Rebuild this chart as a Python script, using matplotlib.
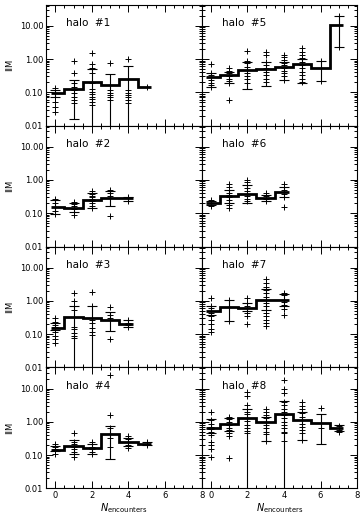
import matplotlib
matplotlib.use("Agg")
import matplotlib.pyplot as plt
from matplotlib.ticker import MultipleLocator, LogLocator, FixedLocator, NullFormatter
import numpy as np

# values, one block per halo
# steps: histogram level at N = 0, 1, 2 ...
# err_lo / err_hi: ends of the error bar at each N (1e-3 = runs off the bottom)
# pts: individual values at each N

steps_h1 = [0.093, 0.126, 0.21, 0.166, 0.257, 0.148]
err_lo_h1 = [0.071, 0.016, 1e-3, 1e-3, 1e-3]
err_hi_h1 = [0.115, 0.24, 0.51, 0.35, 0.60]
pts_h1 = [
    [0.138, 0.093, 0.071, 0.052, 0.037, 0.026],
    [0.89, 0.39, 0.186, 0.148, 0.117, 0.093, 0.074, 0.059, 0.047],
    [1.55, 0.71, 0.52, 0.37, 0.186, 0.123, 0.105, 0.089, 0.074, 0.062, 0.052, 0.042],
    [0.74, 0.117, 0.098, 0.083, 0.071, 0.059],
    [1.0, 0.117, 0.098, 0.083, 0.071, 0.059, 0.049],
    [0.148],
]

steps_h2 = [0.157, 0.14, 0.25, 0.28, 0.28]
err_lo_h2 = [0.094, 0.106, 0.14, 0.168, 0.24]
err_hi_h2 = [0.25, 0.21, 0.42, 0.47, 0.31]
pts_h2 = [
    [0.27, 0.21, 0.15, 0.119, 0.094],
    [0.22, 0.19, 0.16, 0.133, 0.106, 0.088],
    [0.47, 0.39, 0.33, 0.30, 0.27, 0.24, 0.21, 0.168, 0.14],
    [0.51, 0.42, 0.33, 0.28, 0.08],
    [0.31, 0.28, 0.24],
]

steps_h3 = [0.158, 0.32, 0.30, 0.27, 0.20]
err_lo_h3 = [0.135, 1e-3, 1e-3, 0.126, 0.16]
err_hi_h3 = [0.22, 0.68, 0.68, 0.45, 0.26]
pts_h3 = [
    [0.30, 0.24, 0.19, 0.17, 0.15, 0.12, 0.089, 0.071, 0.056],
    [1.78, 1.02, 0.71, 0.54, 0.17, 0.14, 0.107, 0.089, 0.076],
    [1.9, 0.71, 0.27, 0.21, 0.15, 0.12, 0.095],
    [0.65, 0.38, 0.30, 0.26, 0.071],
    [0.26, 0.22, 0.19, 0.16],
]

steps_h4 = [0.14, 0.19, 0.166, 0.43, 0.24, 0.21]
err_lo_h4 = [0.13, 0.105, 0.105, 0.074, 0.19, 0.20]
err_hi_h4 = [0.19, 0.28, 0.22, 0.76, 0.32, 0.25]
pts_h4 = [
    [0.21, 0.18, 0.15, 0.13, 0.11],
    [0.45, 0.25, 0.21, 0.18, 0.15, 0.126, 0.089],
    [0.25, 0.21, 0.18, 0.15, 0.126, 0.105],
    [25.0, 1.58, 0.63, 0.32, 0.18],
    [0.37, 0.30, 0.25, 0.20, 0.166],
    [0.25, 0.22, 0.20],
]

steps_h5 = [0.28, 0.33, 0.47, 0.50, 0.56, 0.71, 0.55, 10.5]
err_lo_h5 = [0.14, 0.186, 0.13, 0.155, 0.23, 0.195, 0.22, 2.24]
err_hi_h5 = [0.39, 0.42, 0.83, 0.83, 0.83, 0.98, 0.89, 19.5]
pts_h5 = [
    [0.71, 0.39, 0.33, 0.28, 0.23, 0.195, 0.166, 0.14],
    [0.52, 0.45, 0.37, 0.31, 0.26, 0.22, 0.186, 0.059],
    [1.78, 0.89, 0.74, 0.59, 0.47, 0.37, 0.31, 0.245, 0.186],
    [1.66, 1.32, 0.83, 0.66, 0.52, 0.42, 0.33, 0.26, 0.21],
    [1.32, 1.12, 0.93, 0.78, 0.66, 0.52, 0.45, 0.37, 0.30, 0.23],
    [2.1, 1.66, 1.32, 1.05, 0.83, 0.66, 0.52, 0.42, 0.33, 0.26, 0.21],
    [0.89, 0.22],
    [19.5, 2.24],
]

steps_h6 = [0.197, 0.33, 0.38, 0.285, 0.44]
err_lo_h6 = [0.18, 0.197, 0.21, 0.24, 0.30]
err_hi_h6 = [0.226, 0.50, 0.70, 0.35, 0.62]
pts_h6 = [
    [0.25, 0.21, 0.168],
    [0.75, 0.60, 0.42, 0.36, 0.30, 0.25, 0.21, 0.176, 0.143],
    [0.99, 0.84, 0.70, 0.57, 0.47, 0.39, 0.33, 0.27, 0.226],
    [0.42, 0.33, 0.27, 0.24],
    [0.75, 0.62, 0.50, 0.38, 0.30, 0.157],
]

steps_h7 = [0.48, 0.65, 0.60, 1.07, 1.07]
err_lo_h7 = [0.38, 0.25, 0.48, 0.54, 0.68]
err_hi_h7 = [0.71, 1.07, 0.85, 2.24, 1.62]
pts_h7 = [
    [1.2, 0.71, 0.60, 0.51, 0.43, 0.34, 0.27, 0.20, 0.14, 0.12],
    [1.07, 0.25],
    [1.2, 0.85, 0.71, 0.60, 0.51, 0.43, 0.34, 0.20],
    [4.5, 3.4, 2.7, 2.1, 1.7, 1.35, 1.07, 0.85, 0.68, 0.54, 0.43, 0.34, 0.27, 0.21, 0.18],
    [1.78, 1.5, 0.95, 0.76, 0.56, 0.38],
]

steps_h8 = [0.63, 0.89, 1.32, 1.0, 1.66, 1.12, 0.93, 0.63]
err_lo_h8 = [0.45, 0.52, 1e-3, 0.26, 1e-3, 0.28, 0.21, 0.52]
err_hi_h8 = [1.2, 1.32, 2.5, 1.41, 4.2, 2.0, 1.66, 0.79]
pts_h8 = [
    [2.0, 1.12, 0.89, 0.71, 0.60, 0.50, 0.40, 0.25, 0.20, 0.15, 0.089],
    [1.41, 1.2, 1.0, 0.79, 0.66, 0.56, 0.45, 0.38, 0.083],
    [7.9, 6.0, 3.2, 2.5, 2.0, 1.66, 1.32, 1.05, 0.83, 0.66, 0.52, 0.45],
    [2.5, 2.0, 1.58, 1.26, 1.0, 0.79, 0.63, 0.50, 0.42, 0.26],
    [17.8, 10.0, 7.6, 4.0, 3.2, 2.5, 2.0, 1.58, 1.26, 1.0, 0.79, 0.63, 0.50, 0.45, 0.26],
    [4.0, 3.0, 2.4, 1.9, 1.41, 1.12, 0.89, 0.71, 0.56, 0.45, 0.28],
    [2.6, 0.63],
    [0.76, 0.66, 0.56, 0.48],
]

halos = [
    (1, steps_h1, err_lo_h1, err_hi_h1, pts_h1),
    (5, steps_h5, err_lo_h5, err_hi_h5, pts_h5),
    (2, steps_h2, err_lo_h2, err_hi_h2, pts_h2),
    (6, steps_h6, err_lo_h6, err_hi_h6, pts_h6),
    (3, steps_h3, err_lo_h3, err_hi_h3, pts_h3),
    (7, steps_h7, err_lo_h7, err_hi_h7, pts_h7),
    (4, steps_h4, err_lo_h4, err_hi_h4, pts_h4),
    (8, steps_h8, err_lo_h8, err_hi_h8, pts_h8),
]

ytick_vals = [0.01, 0.1, 1.0, 10.0]
ytick_labels = ["0.01", "0.10", "1.00", "10.00"]
xtick_vals = [0, 2, 4, 6, 8]


def draw_panel(ax, num, steps, lo, hi, pts):
    """One halo panel"""
    n = np.arange(len(steps))
    edges = np.concatenate([[n[0] - 0.25], n[:-1] + 0.5, [n[-1] + 0.25]])
    ax.stairs(steps, edges, color="k", lw=2.0, baseline=None)

    ne = np.arange(len(lo))
    lo = np.array(lo)
    hi = np.array(hi)
    mid = np.sqrt(lo * hi)
    ax.errorbar(ne, mid, yerr=[mid - lo, hi - mid], fmt="none", ecolor="k",
                elinewidth=0.8, capsize=3.6, capthick=0.8)

    for i, vals in enumerate(pts):
        ax.plot([i] * len(vals), vals, "k+", ms=5, mew=0.7, ls="none")

    ax.text(0.13, 0.85, "halo  #%d" % num, transform=ax.transAxes,
            fontsize=7.5, va="center", ha="left")

    ax.set_yscale("log")
    ax.set_ylim(0.01, 43)
    ax.set_xlim(-0.5, 8)
    ax.yaxis.set_major_locator(FixedLocator(ytick_vals))
    ax.yaxis.set_minor_locator(LogLocator(base=10, subs=np.arange(2, 10)))
    ax.yaxis.set_minor_formatter(NullFormatter())
    ax.xaxis.set_major_locator(FixedLocator(xtick_vals))
    ax.xaxis.set_minor_locator(MultipleLocator(0.5))
    ax.tick_params(which="both", direction="in", top=True, right=True,
                   width=0.7, labelsize=6, pad=2)
    ax.tick_params(which="major", length=5)
    ax.tick_params(which="minor", length=2.5)
    for s in ax.spines.values():
        s.set_linewidth(0.8)


def main():
    fig, axes = plt.subplots(4, 2, figsize=(3.6, 5.19), dpi=100)
    fig.subplots_adjust(left=0.128, right=0.992, bottom=0.059, top=0.991,
                        wspace=0, hspace=0)
    for ax, (num, steps, lo, hi, pts) in zip(axes.flat, halos):
        draw_panel(ax, num, steps, lo, hi, pts)

    for r in range(4):
        left = axes[r, 0]
        right = axes[r, 1]
        left.set_yticklabels(ytick_labels)
        left.set_ylabel("IIM", fontsize=6, labelpad=4)
        right.set_yticklabels([])
        if r < 3:
            left.set_xticklabels([])
            right.set_xticklabels([])
    for ax in axes[3]:
        ax.set_xlabel(r"$N_{\rm encounters}$", fontsize=7, labelpad=1)

    fig.savefig("out.png", dpi=100)


if __name__ == "__main__":
    main()
